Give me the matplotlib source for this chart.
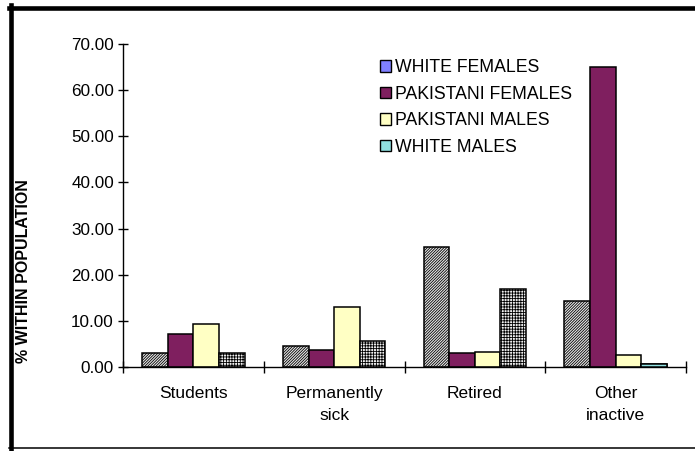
import numpy as np
import matplotlib.pyplot as plt
from matplotlib.patches import Patch
from matplotlib.lines import Line2D

plt.rcParams['font.family'] = ['Liberation Sans', 'DejaVu Sans']
plt.rcParams['hatch.linewidth'] = 0.6

# Datos (% dentro de cada población)
categorias = ['Students', 'Permanently\nsick', 'Retired', 'Other\ninactive']
series = ['WHITE FEMALES', 'PAKISTANI FEMALES', 'PAKISTANI MALES', 'WHITE MALES']
white_females = [3.1, 4.5, 26.1, 14.2]
pakistani_females = [7.1, 3.6, 3.1, 65.0]
pakistani_males = [9.3, 13.0, 3.2, 2.6]
white_males = [3.1, 5.7, 16.8, 0.7]
valores = [white_females, pakistani_females, pakistani_males, white_males]

# Estilo de cada serie: relleno de la barra, trama y color de la leyenda
relleno = ['#e8e8e8', '#7f1f5f', '#ffffc4', '#f0f0f0']
trama = ['////////////', None, None, '++++++']
color_leyenda = ['#8080ff', '#7f1f5f', '#ffffc4', '#90e0e0']

fig = plt.figure(figsize=(6.95, 4.51), dpi=100)
ax = fig.add_axes([123 / 695, 84 / 451, 563 / 695, 323 / 451])

x = np.arange(len(categorias))
w = 1 / 5.5
for i, vals in enumerate(valores):
    ax.bar(x + (i - 1.5) * w, vals, width=w, color=relleno[i], hatch=trama[i],
           edgecolor='black', linewidth=1.1, zorder=2)
# Barra de WHITE MALES en Other inactive, demasiado baja para la trama
ax.bar(x[3] + 1.5 * w, white_males[3], width=w, color=color_leyenda[3],
       edgecolor='black', linewidth=1.1, zorder=3)

ax.set_xlim(-0.5, 3.5)
ax.set_ylim(0, 70)
ax.set_yticks(np.arange(0, 71, 10))
ax.set_yticklabels([f'{v:.2f}' for v in range(0, 71, 10)])
ax.set_xticks(x)
ax.set_xticklabels(categorias)
for etiqueta in ax.get_xticklabels():
    etiqueta.set_linespacing(1.6)
ax.set_xticks(np.arange(-0.5, 4, 1), minor=True)
ax.tick_params(axis='x', which='major', length=0, pad=13.5, labelsize=12.5)
ax.tick_params(axis='x', which='minor', direction='inout', length=8, width=1)
ax.tick_params(axis='y', direction='inout', length=7, width=1, pad=3, labelsize=12.3)
for lado in ['top', 'right']:
    ax.spines[lado].set_visible(False)
for lado in ['left', 'bottom']:
    ax.spines[lado].set_linewidth(1)

fig.text(24 / 695, 1 - 271 / 451, '% WITHIN POPULATION', rotation=90,
         ha='center', va='center', fontsize=11.5, fontweight='bold')

handles = [Patch(facecolor=c, edgecolor='black', linewidth=1) for c in color_leyenda]
fig.legend(handles, series, loc='upper left', bbox_to_anchor=(380 / 695, 1 - 59 / 451),
           frameon=False, fontsize=12.7, handlelength=0.63, handleheight=0.63,
           handletextpad=0.22, labelspacing=0.54, borderpad=0, borderaxespad=0)

# Marco exterior
fig.add_artist(Line2D([10.5 / 695, 10.5 / 695], [1 - 5 / 451, 1 - 449 / 451],
                      transform=fig.transFigure, color='black', linewidth=3.3))
fig.add_artist(Line2D([8.5 / 695, 1], [1 - 7.5 / 451, 1 - 7.5 / 451],
                      transform=fig.transFigure, color='black', linewidth=3.3))
fig.add_artist(Line2D([8.5 / 695, 1], [1 - 448 / 451, 1 - 448 / 451],
                      transform=fig.transFigure, color='black', linewidth=1.1))

fig.savefig('out.png', dpi=100)
